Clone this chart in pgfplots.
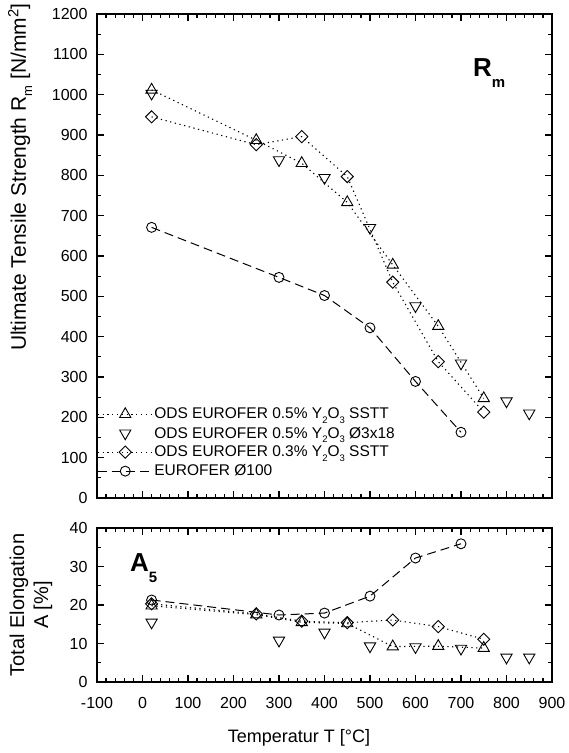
\documentclass[border=0pt]{standalone}
\usepackage{fontspec}
\setmainfont{Liberation Sans}
\usepackage{pgfplots}
\pgfplotsset{compat=1.18}
\newcommand\lsub[1]{\raisebox{-0.32em}{\fontsize{9.5}{10}\selectfont #1}}
\pgfplotsset{
  myaxis/.style={
    scale only axis, width=455pt,
    xmin=-100, xmax=900,
    xtick={-100,0,...,900}, minor x tick num=4,
    tick align=inside,
    axis line style={line width=1.6pt},
    major tick length=7pt, minor tick length=4pt,
    every tick/.append style={line width=1.2pt, black},
    tick label style={font=\fontsize{16}{19}\selectfont},
    xticklabel style={yshift=-12pt},
    yticklabel style={xshift=-6pt},
    /pgf/number format/assume math mode=true,
    /pgf/number format/1000 sep={},
    legend image code/.code={\draw[mark repeat=2,mark phase=2,##1] plot coordinates {(0pt,0pt) (27.5pt,0pt) (55pt,0pt)};},
  },
  dotl/.style={black, line width=1.1pt, dash pattern=on 1.2pt off 3.6pt},
  dashl/.style={black, line width=1pt, dash pattern=on 9pt off 5pt},
  tup/.style={mark=triangle, mark size=6.5pt, mark options={solid, line width=0.9pt, fill=white}},
  tdn/.style={mark=triangle, mark size=6.5pt, mark options={solid, rotate=180, line width=0.9pt, fill=white}},
  dia/.style={mark=square, mark size=4.3pt, mark options={solid, rotate=45, line width=0.9pt, fill=white}},
  cir/.style={mark=o, mark size=5pt, mark options={solid, line width=0.9pt, fill=white}},
}
\begin{document}
\begin{tikzpicture}
% top panel
\begin{axis}[myaxis, name=top, at={(0pt,184pt)}, anchor=south west,
  height=484pt, ymin=0, ymax=1200, ytick={0,100,...,1200}, minor y tick num=1,
  xticklabels={},
  ylabel={Ultimate Tensile Strength R\raisebox{-0.3em}{\fontsize{13}{13}\selectfont m} [N/mm\textsuperscript{2}]},
  ylabel style={font=\fontsize{21}{25}\selectfont, at={(axis description cs:-0.169,0.663)}, anchor=center},
  legend style={at={(rel axis cs:0,0.04)}, anchor=south west, draw=none, fill=none,
    font=\fontsize{15.5}{19}\selectfont, legend cell align=left, inner sep=0pt,
    nodes={inner sep=1pt}, row sep=4.5pt},
]
\addplot[dotl, tup] coordinates {(20,1012)(250,887)(350,830)(450,733)(550,578)(650,426)(750,247)};
\addlegendentry{ODS EUROFER 0.5\% Y\lsub{2}O\lsub{3} SSTT}
\addplot[only marks, black, tdn] coordinates {(20,1003)(300,838)(400,794)(500,670)(600,476)(700,334)(800,240)(850,210)};
\addlegendentry{ODS EUROFER 0.5\% Y\lsub{2}O\lsub{3} Ø3x18}
\addplot[dotl, dia] coordinates {(20,945)(250,876)(350,896)(450,797)(550,535)(650,338)(750,213)};
\addlegendentry{ODS EUROFER 0.3\% Y\lsub{2}O\lsub{3} SSTT}
\addplot[dashl, cir] coordinates {(20,671)(300,547)(400,502)(500,422)(600,289)(700,163)};
\addlegendentry{EUROFER Ø100}
\node[anchor=base west, inner sep=0pt, font=\bfseries\fontsize{26}{30}\selectfont] at (axis cs:726,1046) {R\raisebox{-11pt}{\fontsize{15}{15}\selectfont m}};
\end{axis}
% bottom panel
\begin{axis}[myaxis, name=bot, at={(0pt,0pt)}, anchor=south west,
  height=154pt, ymin=0, ymax=40, ytick={0,10,...,40}, minor y tick num=1,
  xlabel={Temperatur T [°C]},
  xlabel style={font=\fontsize{18}{22}\selectfont, at={(axis description cs:0.444,-0.364)}, anchor=center},
  ylabel={Total Elongation\\A [\%]},
  ylabel style={font=\fontsize{20}{24}\selectfont, align=center, at={(axis description cs:-0.145,0.5)}, anchor=center},
]
\addplot[dotl, tup] coordinates {(20,19.8)(250,17.5)(350,15.5)(450,15.2)(550,9.2)(650,9.3)(750,8.8)};
\addplot[only marks, black, tdn] coordinates {(20,15.5)(300,10.8)(400,12.9)(500,9.3)(600,9.1)(700,8.7)(800,6.4)(850,6.4)};
\addplot[dotl, dia] coordinates {(20,20.3)(250,17.7)(350,15.8)(450,15.4)(550,16.1)(650,14.4)(750,11.1)};
\addplot[dashl, cir] coordinates {(20,21.3)(300,17.4)(400,17.9)(500,22.3)(600,32.2)(700,35.9)};
\node[anchor=base west, inner sep=0pt, font=\bfseries\fontsize{26}{30}\selectfont] at (axis cs:-27.5,28.6) {A\raisebox{-11pt}{\fontsize{15}{15}\selectfont 5}};
\end{axis}
\path (-97pt,-71pt) rectangle (471pt,682pt);
\end{tikzpicture}
\end{document}
